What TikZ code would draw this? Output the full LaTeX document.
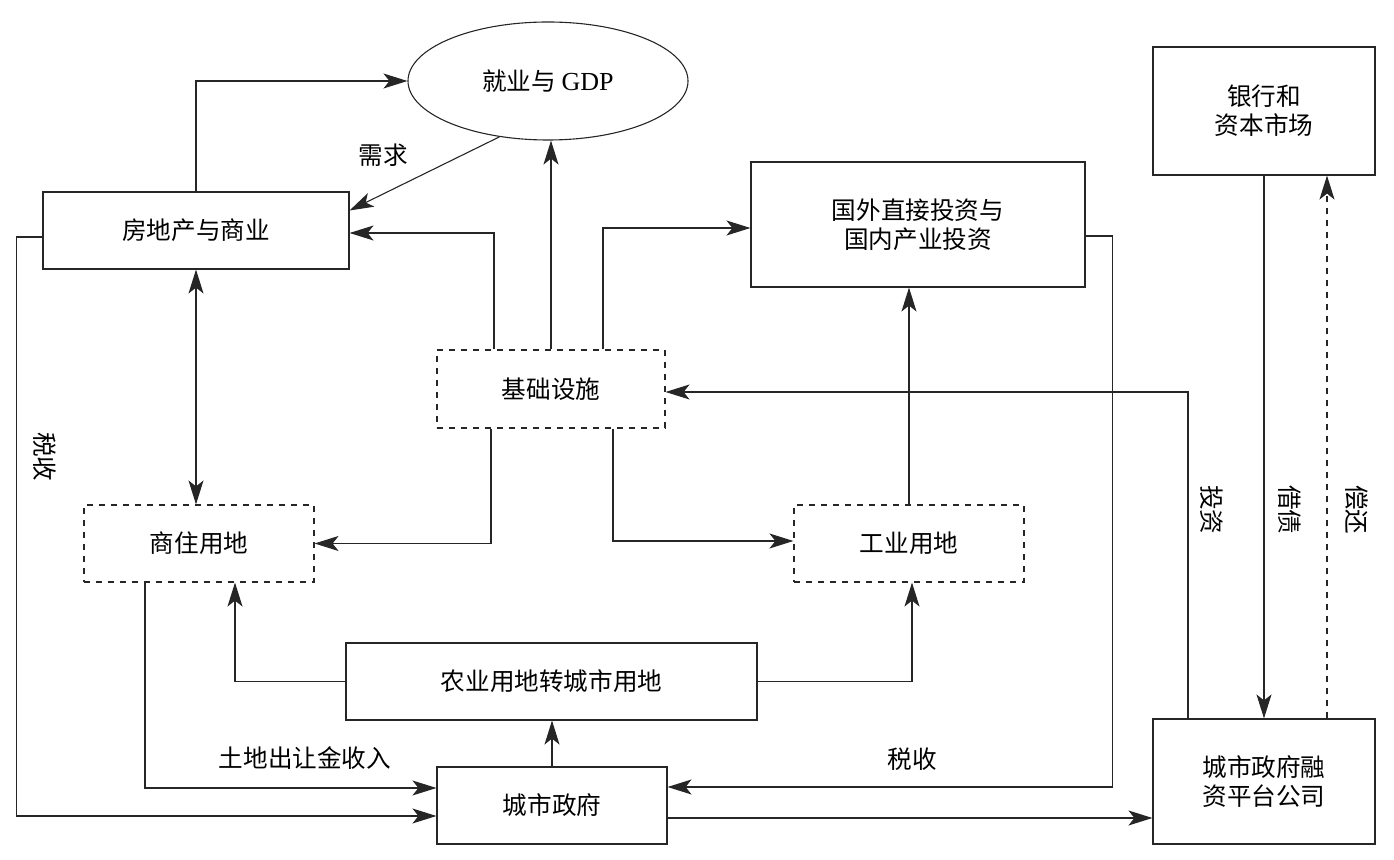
\documentclass[tikz,border=0pt]{standalone}
\usepackage{fontspec}
\setmainfont{Liberation Serif}
\newfontfamily\cjk{Noto Sans CJK SC}
\usetikzlibrary{arrows.meta,shapes.geometric}

\begin{document}
\begin{tikzpicture}[x=0.5pt, y=-0.5pt,
			font=\cjk\fontsize{12.3}{14.5}\selectfont, line width=0.55pt, draw=black!85,
			box/.style={draw, rectangle, inner sep=0pt, align=center},
			dbox/.style={box, dashed},
			flow/.style={-{Stealth[length=12pt, width=7.5pt, inset=3pt]}},
			lab/.style={inner sep=1pt}]
			\useasboundingbox (0,0) rectangle (1394,860);
			% nodes
			\node[draw, ellipse, minimum width=140pt, minimum height=59pt, inner sep=0pt] (gdp) at (548,81) {就业与 {\rmfamily\fontsize{13}{15}\selectfont GDP}};
			\node[box, minimum width=153pt, minimum height=38.5pt] (estate) at (196,230.5) {房地产与商业};
			\node[box, minimum width=167pt, minimum height=62.5pt] (fdi) at (918,224.5) {国外直接投资与\\国内产业投资};
			\node[box, minimum width=111pt, minimum height=64pt] (bank) at (1264,111) {银行和\\资本市场};
			\node[dbox, minimum width=114pt, minimum height=39pt] (infra) at (551,389) {基础设施};
			\node[dbox, minimum width=115pt, minimum height=38.5pt] (resid) at (199,543.5) {商住用地};
			\node[dbox, minimum width=115pt, minimum height=38.5pt] (indus) at (909,543.5) {工业用地};
			\node[box, minimum width=205.5pt, minimum height=38.5pt] (agri) at (551.5,681.5) {农业用地转城市用地};
			\node[box, minimum width=115pt, minimum height=38.5pt] (gov) at (552,805.5) {城市政府};
			\node[box, minimum width=111pt, minimum height=62.5pt] (lgfv) at (1264,781.5) {城市政府融\\资平台公司};
			% connectors
			\draw[flow] (estate.north) |- (gdp.west);
			\draw[flow] (gdp.229) -- ([yshift=10pt]estate.east);
			\draw[flow] ([xshift=-28.5pt]infra.north) |- ([yshift=-1.25pt]estate.east);
			\draw[flow] (infra.north) -- (infra.north |- gdp.south);
			\draw[flow] ([xshift=26pt]infra.north) |- ([yshift=-1.75pt]fdi.west);
			\draw[{Stealth[length=12pt, width=7.5pt, inset=3pt]}-{Stealth[length=12pt, width=7.5pt, inset=3pt]}] (estate.south) -- (estate.south |- resid.north);
			\draw[flow] ([yshift=-3.25pt]estate.west) -- ++(-13pt,0) |- ([yshift=-5.25pt]gov.west);
			\draw[flow] ([xshift=-30pt]infra.south) |- (resid.east);
			\draw[flow] ([xshift=31pt]infra.south) |- ([yshift=1.25pt]indus.west);
			\draw[flow] (indus.north) -- (indus.north |- fdi.south);
			\draw[flow] ([yshift=-5.75pt]fdi.east) -- ++(13.5pt,0) |- ([yshift=9.25pt]gov.east);
			\draw[flow] ([xshift=-38pt]lgfv.north) |- ([yshift=-1.5pt]infra.east);
			\draw[flow] (bank.south) -- (bank.south |- lgfv.north);
			\draw[flow, dashed] ([xshift=31.5pt]lgfv.north) -- ([xshift=31.5pt]bank.south);
			\draw[flow] (agri.west) -| ([xshift=18pt]resid.south);
			\draw[flow] (agri.east) -| ([xshift=1.5pt]indus.south);
			\draw[flow] (gov.north) -- (gov.north |- agri.south);
			\draw[flow] ([xshift=-27pt]resid.south) |- ([yshift=8.75pt]gov.west);
			\draw[flow] ([yshift=-6.25pt]gov.east) -- ([yshift=-6.25pt]gov.east -| lgfv.west);
			% labels
			\node[lab] (demand) at (383,155) {需求};
			\node[lab, rotate=-90] (taxl) at (45,457) {税收};
			\node[lab] (taxr) at (912,759) {税收};
			\node[lab] (landfee) at (305,758) {土地出让金收入};
			\node[lab, rotate=-90] (invest) at (1212,510) {投资};
			\node[lab, rotate=-90] (borrow) at (1290,510) {借债};
			\node[lab, rotate=-90] (repay) at (1357,510) {偿还};
\end{tikzpicture}
\end{document}
